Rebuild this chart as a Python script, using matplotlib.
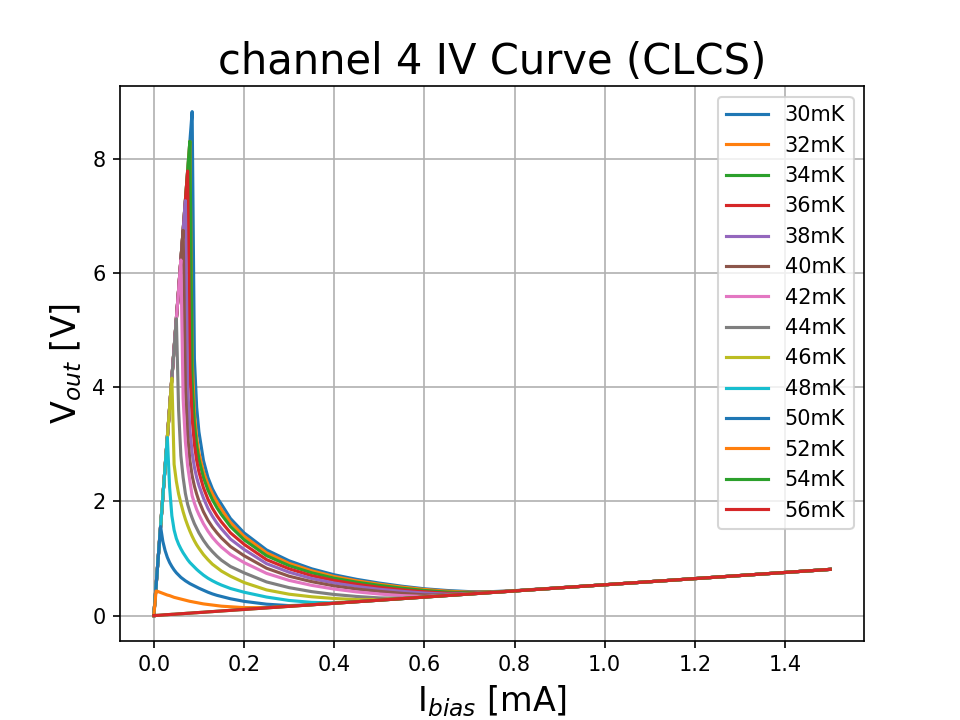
#IV curves for channel 4, CLCS, temperatures 30mK to 56mK

import matplotlib
matplotlib.use('Agg')
import matplotlib.pyplot as plt

# bias current sweep [mA]
ibias = [0.0, 0.005, 0.01, 0.015, 0.02, 0.025, 0.03, 0.035, 0.04, 0.045,
         0.05, 0.055, 0.06, 0.065, 0.07, 0.075, 0.08, 0.085, 0.09, 0.095,
         0.1, 0.11, 0.12, 0.13, 0.14, 0.15, 0.17, 0.2, 0.25, 0.3,
         0.35, 0.4, 0.45, 0.5, 0.55, 0.6, 0.65, 0.7, 0.75, 0.8,
         1.0, 1.2, 1.5]

temps = [30, 32, 34, 36, 38, 40, 42, 44, 46, 48, 50, 52, 54, 56]

# output voltage [V] for each temperature
v_30 = [0.0, 0.52, 1.04, 1.56, 2.08, 2.60, 3.12, 3.64, 4.16, 4.68, 5.20, 5.71, 6.23, 6.75, 7.27, 7.79, 8.31, 8.83,
        4.5, 3.65, 3.22, 2.72, 2.42, 2.22, 2.07, 1.95, 1.70, 1.45, 1.15, 0.96, 0.82, 0.715, 0.635, 0.57, 0.515,
        0.47, 0.44, 0.42, 0.42, 0.437, 0.54, 0.648, 0.81]
v_32 = [0.0, 0.52, 1.04, 1.56, 2.08, 2.60, 3.12, 3.64, 4.16, 4.68, 5.20, 5.71, 6.23, 6.75, 7.27, 7.79, 8.31,
        4.5, 3.55, 3.12, 2.85, 2.52, 2.30, 2.13, 1.99, 1.86, 1.63, 1.39, 1.10, 0.915, 0.785, 0.685, 0.61, 0.55,
        0.50, 0.458, 0.428, 0.41, 0.415, 0.435, 0.54, 0.648, 0.81]
v_34 = [0.0, 0.52, 1.04, 1.56, 2.08, 2.60, 3.12, 3.64, 4.16, 4.68, 5.20, 5.71, 6.23, 6.75, 7.27, 7.79, 8.31,
        4.1, 3.35, 2.98, 2.74, 2.42, 2.20, 2.03, 1.89, 1.77, 1.56, 1.33, 1.05, 0.875, 0.75, 0.655, 0.585, 0.53,
        0.48, 0.44, 0.413, 0.40, 0.41, 0.433, 0.54, 0.648, 0.81]
v_36 = [0.0, 0.52, 1.04, 1.56, 2.08, 2.60, 3.12, 3.64, 4.16, 4.68, 5.20, 5.71, 6.23, 6.75, 7.27, 7.79,
        4.3, 3.45, 3.0, 2.72, 2.52, 2.24, 2.04, 1.88, 1.75, 1.64, 1.45, 1.25, 0.98, 0.82, 0.70, 0.615, 0.55,
        0.495, 0.452, 0.418, 0.392, 0.39, 0.408, 0.433, 0.54, 0.648, 0.81]
v_38 = [0.0, 0.52, 1.04, 1.56, 2.08, 2.60, 3.12, 3.64, 4.16, 4.68, 5.20, 5.71, 6.23, 6.75, 7.27,
        4.0, 3.25, 2.85, 2.6, 2.42, 2.28, 2.06, 1.88, 1.74, 1.62, 1.52, 1.34, 1.16, 0.91, 0.76, 0.65, 0.57,
        0.51, 0.462, 0.425, 0.395, 0.375, 0.385, 0.408, 0.433, 0.54, 0.648, 0.81]
v_40 = [0.0, 0.52, 1.04, 1.56, 2.08, 2.60, 3.12, 3.64, 4.16, 4.68, 5.20, 5.71, 6.23, 6.75,
        4.0, 3.15, 2.72, 2.45, 2.27, 2.13, 2.01, 1.82, 1.67, 1.55, 1.45, 1.36, 1.21, 1.05, 0.83, 0.69, 0.595,
        0.52, 0.465, 0.425, 0.39, 0.363, 0.36, 0.382, 0.407, 0.433, 0.54, 0.648, 0.81]
v_42 = [0.0, 0.52, 1.04, 1.56, 2.08, 2.60, 3.12, 3.64, 4.16, 4.68, 5.20, 5.71, 6.23,
        3.8, 3.05, 2.62, 2.35, 2.1, 1.97, 1.86, 1.77, 1.61, 1.48, 1.37, 1.28, 1.2, 1.07, 0.93, 0.74, 0.617,
        0.53, 0.465, 0.415, 0.378, 0.35, 0.335, 0.355, 0.38, 0.406, 0.432, 0.54, 0.648, 0.81]
v_44 = [0.0, 0.52, 1.04, 1.56, 2.08, 2.60, 3.12, 3.64, 4.16, 4.68, 5.20,
        3.6, 2.8, 2.42, 2.14, 1.95, 1.82, 1.71, 1.61, 1.53, 1.45, 1.32, 1.21, 1.12, 1.04, 0.97, 0.86, 0.75,
        0.59, 0.49, 0.42, 0.37, 0.335, 0.31, 0.305, 0.327, 0.352, 0.378, 0.405, 0.432, 0.54, 0.648, 0.81]
v_46 = [0.0, 0.52, 1.04, 1.56, 2.08, 2.60, 3.12, 3.64, 4.16,
        2.65, 2.35, 2.13, 1.97, 1.82, 1.69, 1.58, 1.48, 1.39, 1.31, 1.24, 1.18, 1.07, 0.98, 0.90, 0.84, 0.78,
        0.69, 0.58, 0.45, 0.375, 0.33, 0.30, 0.28, 0.28, 0.30, 0.325, 0.352, 0.378, 0.405, 0.432, 0.54, 0.648, 0.81]
v_48 = [0.0, 0.52, 1.04, 1.56, 2.08, 2.60, 3.12,
        2.25, 1.75, 1.5, 1.35, 1.25, 1.17, 1.10, 1.04, 0.98, 0.93, 0.89, 0.85, 0.81, 0.775, 0.71, 0.655, 0.61,
        0.57, 0.535, 0.475, 0.41, 0.325, 0.265, 0.232, 0.222, 0.244, 0.27, 0.297, 0.324, 0.351, 0.378, 0.405,
        0.432, 0.54, 0.648, 0.81]
v_50 = [0.0, 0.52, 1.04, 1.56,
        1.30, 1.14, 1.02, 0.93, 0.86, 0.80, 0.75, 0.71, 0.67, 0.64, 0.61, 0.585, 0.56, 0.54, 0.52, 0.50, 0.48,
        0.445, 0.41, 0.38, 0.355, 0.335, 0.295, 0.25, 0.20, 0.175, 0.19, 0.216, 0.243, 0.27, 0.297, 0.324,
        0.351, 0.378, 0.405, 0.432, 0.54, 0.648, 0.81]
v_52 = [0.0, 0.43, 0.42, 0.405, 0.39, 0.375, 0.36, 0.35, 0.335, 0.32, 0.31, 0.30, 0.29, 0.28, 0.27, 0.26,
        0.25, 0.243, 0.235, 0.228, 0.22, 0.205, 0.195, 0.185, 0.175, 0.165, 0.155, 0.14, 0.14, 0.165, 0.19,
        0.216, 0.243, 0.27, 0.297, 0.324, 0.351, 0.378, 0.405, 0.432, 0.54, 0.648, 0.81]
v_54 = [0.0, 0.003, 0.005, 0.008, 0.011, 0.014, 0.016, 0.019, 0.022, 0.024, 0.027, 0.030, 0.032, 0.035,
        0.038, 0.041, 0.043, 0.046, 0.049, 0.051, 0.054, 0.059, 0.065, 0.070, 0.076, 0.081, 0.092, 0.108,
        0.135, 0.162, 0.189, 0.216, 0.243, 0.270, 0.297, 0.324, 0.351, 0.378, 0.405, 0.432, 0.540, 0.648, 0.810]
v_56 = [0.0, 0.003, 0.005, 0.008, 0.011, 0.014, 0.016, 0.019, 0.022, 0.024, 0.027, 0.030, 0.032, 0.035,
        0.038, 0.041, 0.043, 0.046, 0.049, 0.051, 0.054, 0.059, 0.065, 0.070, 0.076, 0.081, 0.092, 0.108,
        0.135, 0.162, 0.189, 0.216, 0.243, 0.270, 0.297, 0.324, 0.351, 0.378, 0.405, 0.432, 0.540, 0.648, 0.810]

vout = [v_30, v_32, v_34, v_36, v_38, v_40, v_42, v_44, v_46, v_48, v_50, v_52, v_54, v_56]


def main():
    plt.figure(figsize=(6.4, 4.8), dpi=150)
    for t, v in zip(temps, vout):
        plt.plot(ibias, v, label=str(t) + 'mK')

    plt.title('channel 4 IV Curve (CLCS)', fontsize=20)
    plt.xlabel(r'I$_{bias}$ [mA]', fontsize=16)
    plt.ylabel(r'V$_{out}$ [V]', fontsize=16)
    plt.grid(True)
    plt.legend(loc='upper right')

    plt.savefig('out.png', dpi=150)


if __name__ == "__main__":
    main()
